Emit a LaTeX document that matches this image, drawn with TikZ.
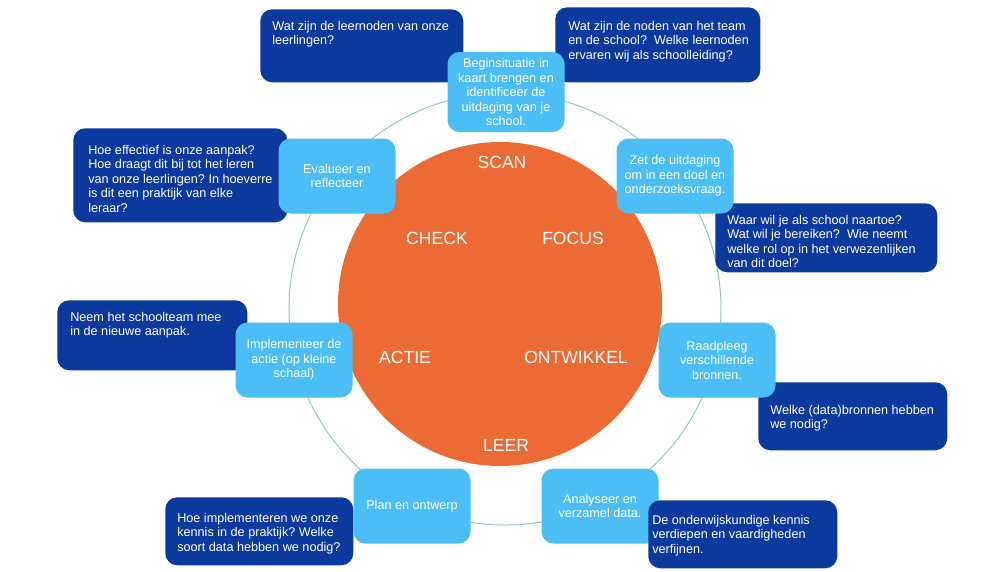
\documentclass[tikz,border=0pt]{standalone}
\usepackage{fontspec}
\setmainfont{Liberation Sans}
\usepackage{xcolor}
\usepackage{tikz}
\definecolor{cycleorange}{HTML}{EC6B35}
\definecolor{steplight}{HTML}{4ABEF5}
\definecolor{notedark}{HTML}{0B399E}
\definecolor{ringteal}{HTML}{8CCBB6}
\newcommand{\boxfont}{\fontsize{9}{10.3}\selectfont}
\newcommand{\phasefont}{\fontsize{12.5}{14}\selectfont}
\frenchspacing
\tikzset{
  cyclestep/.style={
    fill=steplight,
    text=white,
    rounded corners=3mm,
    align=center,
    font=\boxfont,
    minimum width=29.25mm,
    minimum height=18.75mm,
    inner sep=2pt
  },
  notebox/.style={
    fill=notedark,
    rounded corners=3mm,
    anchor=north west,
    minimum height=17mm,
    inner sep=0pt
  },
  notetext/.style={
    text=white,
    font=\boxfont,
    align=left,
    anchor=north west,
    inner sep=0pt
  },
  phase/.style={
    text=white,
    font=\phasefont,
    inner sep=0pt
  }
}

\begin{document}
\begin{tikzpicture}[x=0.25mm, y=-0.25mm]
    \useasboundingbox (0,0) rectangle (1000,571);

    % ring and core
    \node[circle, draw=ringteal, line width=0.7pt, minimum size=108mm, inner sep=0pt] (ring) at (505,309) {};
    \node[circle, fill=cycleorange, minimum size=81mm, inner sep=0pt] (core) at (500,304) {};

    \node[phase] (scan) at (502,162) {SCAN};
    \node[phase] (check) at (437,238) {CHECK};
    \node[phase] (focus) at (573,238) {FOCUS};
    \node[phase] (actie) at (405,357) {ACTIE};
    \node[phase] (ontwikkel) at (576,357) {ONTWIKKEL};
    \node[phase] (leer) at (506,445) {LEER};

    % questions
    \node[notebox, minimum width=50.75mm, minimum height=18.25mm] (qleerling) at (260,9) {};
    \node[notetext] (qleerlingtext) at ([shift={(12,12)}]qleerling.north west) {Wat zijn de leernoden van onze\\leerlingen?};
    \node[notebox, minimum width=51.25mm, minimum height=18.75mm] (qteam) at (555,7) {};
    \node[notetext] (qteamtext) at ([shift={(13,14)}]qteam.north west) {Wat zijn de noden van het team\\en de school?~ Welke leernoden\\ervaren wij als schoolleiding?};
    \node[notebox, minimum width=53.5mm, minimum height=23.5mm] (qeffect) at (73,128) {};
    \node[notetext] (qeffecttext) at ([shift={(15,17)}]qeffect.north west) {Hoe effectief is onze aanpak?\\Hoe draagt dit bij tot het leren\\van onze leerlingen? In hoeverre\\is dit een praktijk van elke\\leraar?};
    \node[notebox, minimum width=55.5mm, minimum height=17.25mm] (qdoel) at (715,203) {};
    \node[notetext] (qdoeltext) at ([shift={(12,12)}]qdoel.north west) {Waar wil je als school naartoe?\\Wat wil je bereiken?~ Wie neemt\\welke rol op in het verwezenlijken\\van dit doel?};
    \node[notebox, minimum width=47.5mm, minimum height=17.5mm] (qteamlid) at (57,300) {};
    \node[notetext] (qteamlidtext) at ([shift={(13,12)}]qteamlid.north west) {Neem het schoolteam mee\\in de nieuwe aanpak.};
    \node[notebox, minimum width=47.25mm] (qbronnen) at (758,382) {};
    \node[notetext] (qbronnentext) at ([shift={(12,23)}]qbronnen.north west) {Welke (data)bronnen hebben\\we nodig?};
    \node[notebox, minimum width=47mm] (qpraktijk) at (165,497) {};
    \node[notetext] (qpraktijktext) at ([shift={(12,16)}]qpraktijk.north west) {Hoe implementeren we onze\\kennis in de praktijk? Welke\\soort data hebben we nodig?};

    % steps of the cycle
    \node[cyclestep, minimum height=20mm] (begin) at (506,92) {Beginsituatie in\\kaart brengen en\\identificeer de\\uitdaging van je\\school.};
    \node[cyclestep] (doel) at (675,176) {Zet de uitdaging\\om in een doel en\\onderzoeksvraag.};
    \node[cyclestep] (raadpleeg) at (717,360) {Raadpleeg\\verschillende\\bronnen.};
    \node[cyclestep] (analyse) at (600,506) {Analyseer en\\verzamel data.};
    \node[cyclestep] (plan) at (412,506) {Plan en ontwerp};
    \node[cyclestep] (actie) at (294,360) {Implementeer de\\actie (op kleine\\schaal)};
    \node[cyclestep] (evalueer) at (337,176) {Evalueer en\\reflecteer};

    \node[notebox, minimum width=47.25mm] (qkennis) at (648,500) {};
    \node[notetext] (qkennistext) at ([shift={(4,15)}]qkennis.north west) {De onderwijskundige kennis\\verdiepen en vaardigheden\\verfijnen.};
\end{tikzpicture}
\end{document}
